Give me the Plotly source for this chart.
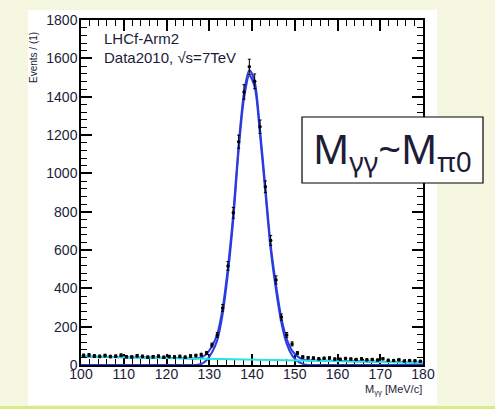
import numpy as np
import plotly.graph_objects as go

# ---- data ----
bin_centers = np.arange(100.625, 180.0, 1.25)
counts = [
    50, 52, 47, 45, 49, 44, 46, 51, 43, 42, 48, 45, 41, 43, 46, 40, 44, 42, 45, 41, 47, 49, 54,
    62, 104, 157, 298, 517, 794, 1165, 1425, 1556, 1480, 1243, 930, 650, 444, 250, 157, 110, 62, 42,
    38, 36, 32, 35, 37, 31, 30, 34, 31, 29, 32, 27, 29, 26, 33, 25, 23, 27, 21, 24, 22, 20,
]
fit_x = [100, 110, 120, 125, 126.875, 128.125, 129.375, 130.625, 131.875, 133.125, 134.375,
         135.625, 136.875, 138.125, 139.375, 140.625, 141.875, 143.125, 144.375, 145.625,
         146.875, 148.125, 149.375, 150.625, 151.875, 153.125, 155, 165, 180]
fit_total = [45, 41, 37, 35, 34, 39, 58, 98, 162, 297, 511, 791, 1150, 1420, 1539, 1479, 1228,
             928, 627, 417, 246, 136, 75, 45, 30, 24, 23, 19, 12]
fit_signal = [0, 0, 0, 0, 0, 5, 25, 65, 130, 265, 480, 760, 1120, 1390, 1510, 1450, 1200, 900,
              600, 390, 220, 110, 50, 20, 6, 0, 0, 0, 0]
bg_x = [100, 180]
bg_y = [45, 12]

x_ticks = [100, 110, 120, 130, 140, 150, 160, 170, 180]
y_ticks = [0, 200, 400, 600, 800, 1000, 1200, 1400, 1600, 1800]

# ---- geometry ----
W, H = 495, 409
L, R, T, B = 81, 423, 20, 365


def px(x):
    return (x - L) / (R - L)


def py(y):
    return (B - y) / (B - T)


TXT = "#1c1c38"
FONT = "Liberation Sans, Arial, sans-serif"

fig = go.Figure()

fig.add_trace(go.Scatter(x=fit_x, y=fit_signal, mode="lines",
                         line=dict(color="#2a3be0", width=2, shape="spline", smoothing=0.8),
                         hoverinfo="skip", showlegend=False, cliponaxis=False))
fig.add_trace(go.Scatter(x=fit_x, y=fit_total, mode="lines",
                         line=dict(color="#2a3be0", width=2, shape="spline", smoothing=0.8),
                         hoverinfo="skip", showlegend=False))
fig.add_trace(go.Scatter(x=bg_x, y=bg_y, mode="lines",
                         line=dict(color="#22e6e6", width=2),
                         hoverinfo="skip", showlegend=False))
fig.add_trace(go.Scatter(x=bin_centers, y=counts, mode="markers",
                         marker=dict(color="black", size=3.5),
                         error_y=dict(type="data", array=np.sqrt(counts), color="black",
                                      thickness=1, width=1.5),
                         showlegend=False))

axis_common = dict(
    showline=True, linecolor="black", linewidth=1.5, mirror="ticks",
    ticks="inside", tickcolor="black", tickwidth=1.5, ticklen=11,
    showgrid=False, zeroline=False,
    tickfont=dict(family=FONT, size=14, color=TXT),
)

fig.update_layout(
    width=W, height=H,
    margin=dict(l=L, r=W - R, t=T, b=H - B),
    paper_bgcolor="#f5f7e1",
    plot_bgcolor="white",
    xaxis=dict(range=[100, 180], tickvals=x_ticks, ticklabelstandoff=-5,
               layer="below traces",
               minor=dict(dtick=2, ticks="inside", ticklen=6, tickcolor="black", tickwidth=1.2),
               **axis_common),
    yaxis=dict(range=[0, 1800], tickvals=y_ticks, ticklabelstandoff=-1,
               minor=dict(dtick=40, ticks="inside", ticklen=6, tickcolor="black", tickwidth=1.2),
               **axis_common),
    shapes=[
        dict(type="rect", xref="paper", yref="paper", layer="below",
             x0=px(28), x1=px(437), y0=py(405), y1=py(10),
             fillcolor="white", line=dict(width=0)),
        dict(type="line", xref="paper", yref="paper", layer="above",
             x0=px(0), x1=px(495), y0=py(407.5), y1=py(407.5),
             line=dict(color="#dbe98a", width=3)),
        dict(type="rect", xref="paper", yref="paper", layer="above",
             x0=px(302), x1=px(483), y0=py(183), y1=py(117),
             fillcolor="white", line=dict(color="black", width=1.2)),
    ],
    annotations=[
        dict(xref="paper", yref="paper", x=px(102), y=py(39), xanchor="left", yanchor="middle",
             text="LHCf-Arm2", showarrow=False, font=dict(family=FONT, size=15, color=TXT)),
        dict(xref="paper", yref="paper", x=px(102), y=py(58), xanchor="left", yanchor="middle",
             text="Data2010, √s=7TeV", showarrow=False, font=dict(family=FONT, size=15, color=TXT)),
        dict(xref="paper", yref="paper", x=px(34), y=py(58), xanchor="center", yanchor="middle",
             text="Events / (1)", textangle=-90, showarrow=False,
             font=dict(family=FONT, size=10, color=TXT)),
        dict(xref="paper", yref="paper", x=px(424), y=py(390), xanchor="right", yanchor="middle",
             text="M<sub>γγ</sub> [MeV/c]", showarrow=False,
             font=dict(family=FONT, size=11, color=TXT)),
        dict(xref="paper", yref="paper", x=px(392), y=py(150), xanchor="center", yanchor="middle",
             text="M<sub>γγ</sub>~M<sub>π0</sub>", showarrow=False,
             font=dict(family="Noto Sans, Liberation Sans, sans-serif", size=40, color=TXT)),
    ],
)

fig.write_html("out.html", config={"displayModeBar": False},
               post_script="document.body.style.margin='0';")
